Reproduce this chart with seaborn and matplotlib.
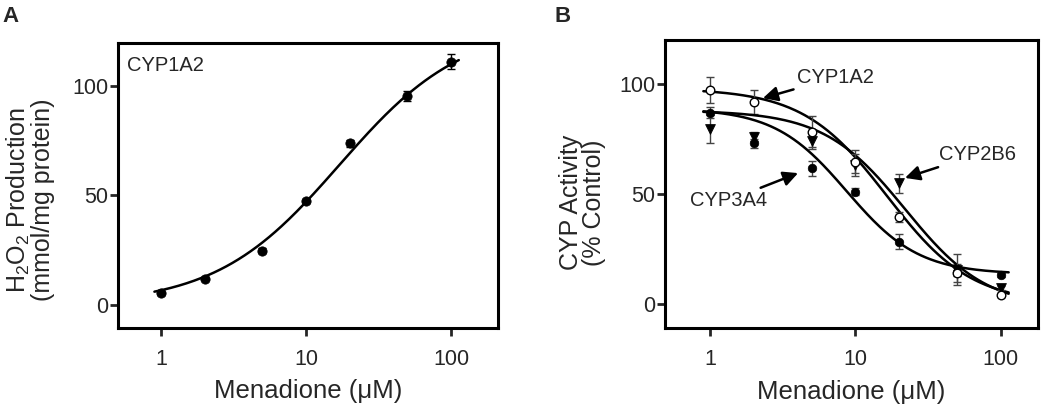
import numpy as np
import matplotlib.pyplot as plt
import matplotlib.ticker as mticker
import seaborn as sns

# menadione concentrations (uM)
conc = [1, 2, 5, 10, 20, 50, 100]

# panel A: H2O2 production by CYP1A2 (mmol/mg protein)
h2o2 = [5.5, 12.0, 24.8, 47.5, 73.8, 95.3, 111.0]
h2o2_err = [0.8, 0.8, 1.0, 1.0, 1.7, 2.3, 3.4]

# panel B: CYP activity (% control)
act_1a2 = [97.3, 92.0, 78.3, 64.7, 39.7, 14.0, 4.1]
err_1a2 = [6.0, 5.5, 7.0, 5.3, 2.3, 4.0, 1.0]
act_2b6 = [79.5, 76.0, 74.0, 63.0, 54.8, 15.5, 7.1]
err_2b6 = [6.3, 2.0, 3.5, 5.0, 4.2, 7.0, 1.0]
act_3a4 = [87.0, 73.0, 61.7, 51.0, 28.3, 14.7, 13.2]
err_3a4 = [2.5, 2.0, 3.5, 1.5, 3.4, 2.0, 1.0]

# fitted Hill curves: (bottom, top, EC50/IC50, hill slope)
fit_a = (0, 128, 17.0, 1.02)
fit_1a2 = (0, 98, 16.5, 1.5)
fit_2b6 = (-2, 88, 22.0, 1.55)
fit_3a4 = (13.5, 89, 8.7, 1.75)

sns.set_style("ticks")
plt.rcParams['font.family'] = ['Liberation Sans', 'DejaVu Sans']
plt.rcParams['mathtext.fontset'] = 'custom'
plt.rcParams['mathtext.rm'] = 'Liberation Sans'

xs = np.logspace(np.log10(0.9), np.log10(113), 200)


def hill_up(x, p):
    b, t, c, h = p
    return b + (t - b) / (1 + (c / x) ** h)


def hill_down(x, p):
    b, t, c, h = p
    return b + (t - b) / (1 + (x / c) ** h)


def style_axes(ax, xlim, ylim):
    ax.set_xscale('log')
    ax.set_xlim(*xlim)
    ax.set_ylim(*ylim)
    ax.set_xticks([1, 10, 100])
    ax.set_xticklabels(['1', '10', '100'])
    ax.xaxis.set_minor_locator(mticker.NullLocator())
    ax.set_yticks([0, 50, 100])
    for s in ax.spines.values():
        s.set_visible(True)
        s.set_linewidth(2.2)
        s.set_color('black')
    ax.tick_params(axis='y', direction='out', length=6, width=2, labelsize=15.5, pad=1)
    ax.tick_params(axis='x', direction='out', length=6, width=2, labelsize=15.5, pad=9)
    ax.set_xlabel('Menadione (\u03bcM)', fontsize=18.5)
    ax.xaxis.set_label_coords(0.5, -0.18)


fig = plt.figure(figsize=(10.5, 4.13), dpi=100)
axA = fig.add_axes([0.1124, 0.2058, 0.362, 0.690])
axB = fig.add_axes([0.6333, 0.2058, 0.355, 0.697])

# ---- panel A
sns.lineplot(x=xs, y=hill_up(xs, fit_a), ax=axA, color='black', lw=1.8)
axA.errorbar(conc, h2o2, yerr=h2o2_err, fmt='none', ecolor='black',
             elinewidth=1, capsize=3, capthick=1)
sns.scatterplot(x=conc, y=h2o2, ax=axA, marker='o', s=45, color='black',
                edgecolor='black', zorder=3)
style_axes(axA, (0.505, 211), (-10.5, 119.6))
axA.set_ylabel('H$_2$O$_2$ Production\n(mmol/mg protein)', fontsize=18, linespacing=0.95)
axA.yaxis.set_label_coords(-0.165, 0.45)
axA.text(0.024, 0.92, 'CYP1A2', transform=axA.transAxes, fontsize=14.5, va='center')

# ---- panel B
for vals, errs, p in [(act_1a2, err_1a2, fit_1a2), (act_2b6, err_2b6, fit_2b6),
                      (act_3a4, err_3a4, fit_3a4)]:
    sns.lineplot(x=xs, y=hill_down(xs, p), ax=axB, color='black', lw=1.8)
    axB.errorbar(conc, vals, yerr=errs, fmt='none', ecolor='#444444',
                 elinewidth=1, capsize=3, capthick=1)
sns.scatterplot(x=conc, y=act_3a4, ax=axB, marker='o', s=38, color='black',
                edgecolor='black', zorder=3)
sns.scatterplot(x=conc, y=act_2b6, ax=axB, marker='v', s=50, color='black',
                edgecolor='black', zorder=3)
sns.scatterplot(x=conc, y=act_1a2, ax=axB, marker='o', s=38, color='white',
                edgecolor='black', linewidth=1, zorder=4)
style_axes(axB, (0.49, 179), (-11, 120))
axB.set_ylabel('CYP Activity\n(% Control)', fontsize=18, linespacing=0.95)
axB.yaxis.set_label_coords(-0.158, 0.435)

arrow = dict(arrowstyle='-|>', lw=1.8, color='black', mutation_scale=22,
             shrinkA=0, shrinkB=0)
axB.annotate('CYP1A2', xy=(2.31, 93.6), xytext=(3.95, 103), fontsize=14.5,
             va='center', ha='left', arrowprops=arrow)
axB.annotate('CYP2B6', xy=(21.9, 57.3), xytext=(37.5, 68), fontsize=14.5,
             va='center', ha='left', arrowprops=arrow)
axB.annotate('CYP3A4', xy=(4.03, 59.5), xytext=(2.45, 47), fontsize=14.5,
             va='center', ha='right', arrowprops=arrow)

fig.text(0.002, 0.985, 'A', fontsize=16, fontweight='bold', va='top')
fig.text(0.528, 0.985, 'B', fontsize=16, fontweight='bold', va='top')

fig.savefig('out.png', dpi=100)
